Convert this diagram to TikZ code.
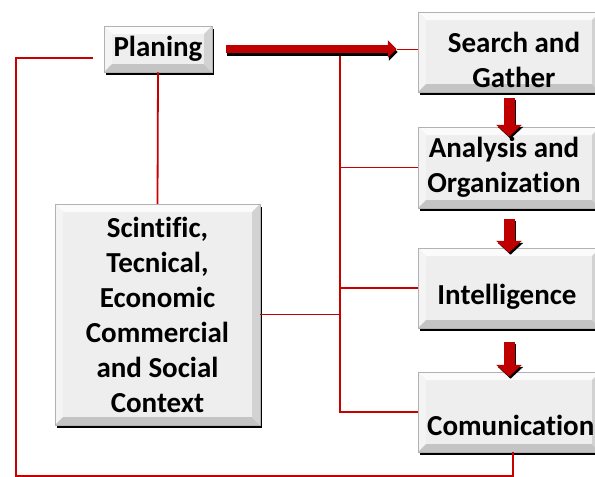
\documentclass[tikz,border=0pt]{standalone}
\usepackage{fontspec}
\setmainfont{Carlito}[Ligatures=CommonOff]
\usetikzlibrary{arrows.meta,calc,shadows}
\definecolor{linered}{HTML}{C80000}
\definecolor{arrred}{HTML}{C00000}
\definecolor{boxface}{HTML}{EEEEEE}
\definecolor{boxlight}{HTML}{FBFBFB}
\definecolor{boxleft}{HTML}{F4F4F4}
\definecolor{boxright}{HTML}{D2D2D2}
\definecolor{boxbottom}{HTML}{C4C4C4}
\tikzset{
  bevelbox/.style={rectangle, inner sep=0pt, draw=gray!60, line width=0.5pt, fill=boxface,
    font=\bfseries\fontsize{29}{35}\selectfont, align=center,
    drop shadow={shadow xshift=2pt, shadow yshift=-3pt, opacity=1, fill=black},
    path picture={
      \coordinate (ppnw) at (path picture bounding box.north west);
      \coordinate (ppne) at (path picture bounding box.north east);
      \coordinate (ppsw) at (path picture bounding box.south west);
      \coordinate (ppse) at (path picture bounding box.south east);
      \fill[boxlight] (ppnw) -- (ppne) -- ([shift={(-8pt,-8pt)}]ppne) -- ([shift={(8pt,-8pt)}]ppnw) -- cycle;
      \fill[boxleft] (ppnw) -- ([shift={(8pt,-8pt)}]ppnw) -- ([shift={(8pt,8pt)}]ppsw) -- (ppsw) -- cycle;
      \fill[boxbottom] (ppsw) -- (ppse) -- ([shift={(-8pt,8pt)}]ppse) -- ([shift={(8pt,8pt)}]ppsw) -- cycle;
      \fill[boxright] (ppne) -- (ppse) -- ([shift={(-8pt,8pt)}]ppse) -- ([shift={(-8pt,-8pt)}]ppne) -- cycle;
    }},
  lbl/.style={font=\bfseries\fontsize{29}{35}\selectfont, align=center, inner sep=0pt},
  conn/.style={draw=linered, line width=1.8pt},
  fatdown/.style={draw=arrred, line width=11pt, -{Triangle[width=25pt,length=12pt]}},
  fatdownshadow/.style={draw=black, line width=11pt, -{Triangle[width=25pt,length=12pt]}},
  bigarr/.style={draw=arrred, line width=8pt, -{Triangle[width=17pt,length=9pt]}},
  bigarrshadow/.style={draw=black, line width=8pt, -{Triangle[width=17pt,length=9pt]}}
}
\begin{document}
\begin{tikzpicture}[x=1pt,y=-1pt]
\useasboundingbox (0,0) rectangle (595,477);
\clip (0,0) rectangle (595,477);
\fill[white] (0,0) rectangle (595,477);

% boxes
\node[bevelbox, minimum width=108pt, minimum height=46pt] (planing) at (158,49) {Planing};
\node[bevelbox, minimum width=205pt, minimum height=221pt] (context) at (157.5,314.5)
  {Scintific,\\Tecnical,\\Economic\\Commercial\\and Social\\Context};
\node[bevelbox, minimum width=182pt, minimum height=80pt] (search) at (509,52) {};
\node[lbl] (searchT) at (514,60) {Search and\\Gather};
\node[bevelbox, minimum width=182pt, minimum height=81pt] (analysis) at (509,167.5) {};
\node[lbl] (analysisT) at (504,167) {Analysis and\\Organization};
\node[bevelbox, minimum width=182pt, minimum height=80pt] (intel) at (509,288) {};
\node[lbl] (intelT) at (507,297) {Intelligence};
\node[bevelbox, minimum width=182pt, minimum height=80pt] (comm) at (509,412) {};
\node[lbl, anchor=west] (commT) at (427,425) {Comunication};

% connectors
\coordinate (loopstart) at (93,58);
\coordinate (bus) at (340,53);
\draw[conn] (loopstart) -- (16,58) -- (16,476) -- (513,476) -- ([xshift=4pt]comm.south);
\draw[conn] (planing.south) -- (context.north);
\draw[conn] (bus) -- (bus |- comm.west) -- (comm.west);
\draw[conn] (bus |- analysis.west) -- (analysis.west);
\draw[conn] (bus |- intel.west) -- (intel.west);
\draw[conn] (context.east) -- (bus |- context.east);

% big horizontal arrow
\draw[bigarrshadow] ([shift={(15pt,-3pt)}]planing.east) -- ([shift={(-20pt,-3pt)}]planing.east -| search.west);
\draw[bigarr] ([xshift=14pt]planing.east) -- ([xshift=-21pt]planing.east -| search.west);
\draw[conn, line width=1pt] ([xshift=-21pt]planing.east -| search.west) -- (planing.east -| search.west);

% down arrows
\draw[fatdownshadow] ([shift={(1.5pt,-8pt)}]search.south) -- ([shift={(1.5pt,-12pt)}]analysis.north);
\draw[fatdown] ([yshift=-6pt]search.south) -- ([yshift=-10pt]analysis.north);
\draw[fatdownshadow] ([shift={(1.5pt,-13pt)}]analysis.south) -- ([shift={(1.5pt,-7pt)}]intel.north);
\draw[fatdown] ([yshift=-11pt]analysis.south) -- ([yshift=-5pt]intel.north);
\draw[fatdownshadow] ([shift={(1.5pt,-16pt)}]intel.south) -- ([shift={(1.5pt,-7pt)}]comm.north);
\draw[fatdown] ([yshift=-14pt]intel.south) -- ([yshift=-5pt]comm.north);
\end{tikzpicture}
\end{document}
